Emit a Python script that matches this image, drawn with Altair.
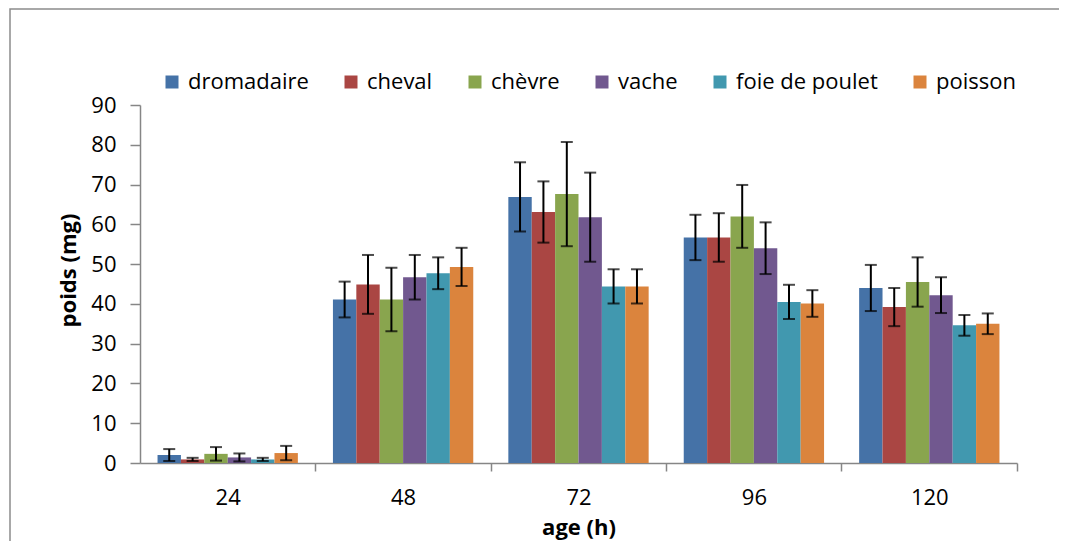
import altair as alt
import pandas as pd

ages = ["24", "48", "72", "96", "120"]
series = ["dromadaire", "cheval", "chèvre", "vache", "foie de poulet", "poisson"]
colors = ["#4572A7", "#AA4643", "#89A54E", "#71588F", "#4198AF", "#DB843D"]
y_ticks = [0, 10, 20, 30, 40, 50, 60, 70, 80, 90]

dromadaire = [2.0, 41.1, 66.9, 56.7, 44.0]
cheval = [0.9, 44.9, 63.1, 56.7, 39.2]
chevre = [2.3, 41.1, 67.6, 62.0, 45.5]
vache = [1.4, 46.7, 61.8, 54.0, 42.2]
foie = [0.9, 47.7, 44.4, 40.5, 34.6]
poisson = [2.5, 49.3, 44.4, 40.1, 35.0]

err_dromadaire = [1.5, 4.5, 8.7, 5.7, 5.8]
err_cheval = [0.4, 7.4, 7.7, 6.1, 4.8]
err_chevre = [1.7, 8.0, 13.1, 7.9, 6.2]
err_vache = [1.0, 5.6, 11.2, 6.5, 4.5]
err_foie = [0.4, 4.0, 4.3, 4.3, 2.6]
err_poisson = [1.8, 4.8, 4.3, 3.35, 2.6]

means = [dromadaire, cheval, chevre, vache, foie, poisson]
errs = [err_dromadaire, err_cheval, err_chevre, err_vache, err_foie, err_poisson]

rows = []
for s, m, e in zip(series, means, errs):
    for a, v, d in zip(ages, m, e):
        rows.append({"age": a, "serie": s, "poids": v, "lo": v - d, "hi": v + d})
df = pd.DataFrame(rows)

FONT = "Open Sans"

x_enc = alt.X(
    "age:N",
    sort=ages,
    scale=alt.Scale(paddingInner=0.2, paddingOuter=0.1),
    axis=alt.Axis(
        title="age (h)",
        labelAngle=0,
        tickOffset=87.5,
        labelOffset=-87.5,
        tickSize=8,
        labelPadding=16,
        titlePadding=9,
    ),
)
xoff = alt.XOffset("serie:N", sort=series, scale=alt.Scale(domain=series, paddingInner=0, paddingOuter=0))

base = alt.Chart(df)

bars = base.mark_bar().encode(
    x=x_enc,
    xOffset=xoff,
    y=alt.Y(
        "poids:Q",
        scale=alt.Scale(domain=[0, 90], nice=False),
        axis=alt.Axis(
            title="poids (mg)",
            values=y_ticks,
            tickCount=10,
            labelOverlap=False,
            tickSize=10,
            labelPadding=14,
            titlePadding=10,
            titleY=165,
            grid=False,
        ),
    ),
    color=alt.Color(
        "serie:N",
        sort=series,
        scale=alt.Scale(domain=series, range=colors),
        legend=alt.Legend(
            title=None,
            orient="none",
            legendX=21,
            legendY=-34,
            direction="horizontal",
            symbolType="square",
            symbolSize=169,
            symbolStrokeWidth=0,
            labelFontSize=22,
            labelFont=FONT,
            labelColor="#000000",
            columnPadding=31,
            labelOffset=5,
            padding=0,
        ),
    ),
)

rules = base.mark_rule(color="black", strokeWidth=2).encode(
    x=alt.X("age:N", sort=ages),
    xOffset=xoff,
    y=alt.Y("lo:Q"),
    y2="hi:Q",
)
cap_lo = base.mark_tick(color="black", thickness=2, size=12, orient="horizontal").encode(
    x=alt.X("age:N", sort=ages),
    xOffset=xoff,
    y=alt.Y("lo:Q"),
)
cap_hi = base.mark_tick(color="black", thickness=2, size=12, orient="horizontal").encode(
    x=alt.X("age:N", sort=ages),
    xOffset=xoff,
    y=alt.Y("hi:Q"),
)

border = alt.Chart(alt.Data(values=[{"b": 1}])).mark_rect(
    fill=None, stroke="#8c8c8c", strokeWidth=1.5
).encode(
    x=alt.value(-130), x2=alt.value(1000), y=alt.value(-96), y2=alt.value(600)
)

chart = alt.layer(border, bars, rules, cap_lo, cap_hi).properties(
    width=877,
    height=358,
    autosize=alt.AutoSizeParams(type="none"),
    padding={"left": 132, "top": 97, "right": 42, "bottom": 78},
).configure_view(stroke=None).configure_axis(
    labelFont=FONT,
    labelFontSize=22,
    labelColor="#000000",
    titleFont=FONT,
    titleFontSize=22,
    titleFontWeight="bold",
    titleColor="#000000",
    domainColor="#868686",
    tickColor="#868686",
    domainWidth=1.5,
    tickWidth=1.5,
)

chart.save("out.html", embed_options={"renderer": "svg", "actions": False})
